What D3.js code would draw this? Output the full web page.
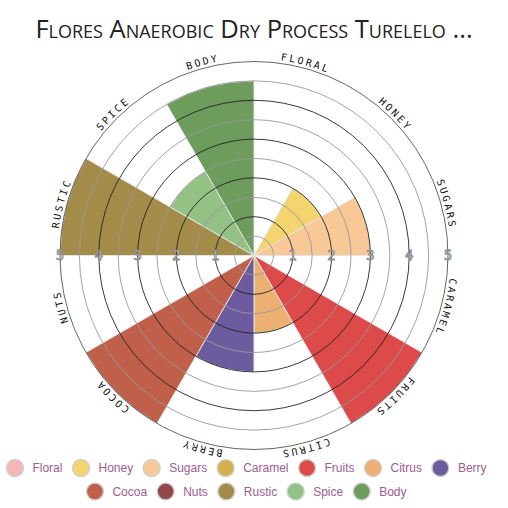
<!DOCTYPE html>
<html>
<head>
<meta charset="utf-8">
<script src="https://cdn.jsdelivr.net/npm/d3@7"></script>
<style>
  html, body { margin: 0; padding: 0; background: #fff; }
  svg { display: block; }
</style>
</head>
<body>
<svg id="chart" width="508" height="508"></svg>
<script>
const title = "Flores Anaerobic Dry Process Turelelo ...";
const categories = ["Floral", "Honey", "Sugars", "Caramel", "Fruits", "Citrus", "Berry", "Cocoa", "Nuts", "Rustic", "Spice", "Body"];
const values = [0, 2, 3, 0, 5, 2, 3, 5, 0, 5, 2.5, 4.5];
const colors = ["#f4b6b6", "#f3d46f", "#f8c996", "#d4af4b", "#dc4a4a", "#ecb073", "#6c5b9e", "#c1604a", "#934848", "#a38c4a", "#94c184", "#6e9c5c"];
const tickValues = [1, 2, 3, 4, 5];
const gridValues = [0.5, 1, 1.5, 2, 2.5, 3, 3.5, 4, 4.5, 5];

const svg = d3.select("#chart");
const cx = 254, cy = 255.5, R = 194;

const titleText = svg.append("text")
  .attr("x", 254).attr("y", 37.5)
  .attr("text-anchor", "middle")
  .style("font-family", "'Open Sans', sans-serif")
  .style("font-variant", "small-caps")
  .style("font-size", "25.5px")
  .style("fill", "#222")
  .text(title);

const r = d3.scaleLinear().domain([0, 5]).range([0, R]);
const ang = d3.scaleBand().domain(categories).range([0, 2 * Math.PI]);

const g = svg.append("g").attr("transform", `translate(${cx},${cy})`);

const data = categories.map((c, i) => ({ cat: c, value: values[i], color: colors[i] }));

const arc = d3.arc()
  .innerRadius(0)
  .outerRadius(d => r(d.value))
  .startAngle(d => ang(d.cat))
  .endAngle(d => ang(d.cat) + ang.bandwidth());

g.selectAll("path.bar").data(data).enter().append("path")
  .attr("class", "bar")
  .attr("d", arc)
  .attr("fill", d => d.color)
  .attr("stroke", "#e4e4e4")
  .attr("stroke-width", 1);

g.selectAll("circle.grid").data(gridValues).enter().append("circle")
  .attr("class", "grid")
  .attr("r", d => r(d))
  .attr("fill", "none")
  .attr("stroke", d => Number.isInteger(d) ? (d === 5 ? "#555" : "#222") : "#999")
  .attr("stroke-width", 0.9);

// Tick labels on both sides
const ticks = [];
tickValues.forEach(t => { ticks.push({ t, s: 1 }); ticks.push({ t, s: -1 }); });
g.selectAll("text.tick").data(ticks).enter().append("text")
  .attr("class", "tick")
  .attr("x", d => d.s * r(d.t))
  .attr("y", 0)
  .attr("dy", "0.36em")
  .attr("text-anchor", "middle")
  .style("font-family", "'DejaVu Sans', sans-serif")
  .style("font-size", "13.5px")
  .style("fill", "#fff")
  .style("stroke", "#808080")
  .style("stroke-width", 0.8)
  .text(d => d.t);

// Category labels on a clockwise circular path
const LR = 197;
g.append("path")
  .attr("id", "labelPath")
  .attr("d", `M0,${-LR} A${LR},${LR} 0 1,1 0,${LR} A${LR},${LR} 0 1,1 0,${-LR}`)
  .attr("fill", "none");
const circ = 2 * Math.PI * LR;
g.selectAll("text.cat").data(data).enter().append("text")
  .attr("class", "cat")
  .style("font-family", "'DejaVu Sans Mono', monospace")
  .style("font-size", "10px")
  .style("letter-spacing", "2.3px")
  .style("fill", "#111")
  .append("textPath")
  .attr("href", "#labelPath")
  .attr("startOffset", d => ((ang(d.cat) + ang.bandwidth() / 2) / (2 * Math.PI)) * circ)
  .attr("text-anchor", "middle")
  .text(d => d.cat.toUpperCase());

// Legend
const rows = [categories.slice(0, 7), categories.slice(7)];
const rowY = [468, 491.5];
const legendCenter = 246.5;
const cr = 8.5;
rows.forEach((row, ri) => {
  const lg = svg.append("g");
  let x = 0;
  row.forEach(c => {
    const i = categories.indexOf(c);
    const item = lg.append("g").attr("transform", `translate(${x},0)`);
    item.append("circle").attr("cx", cr).attr("cy", 0).attr("r", cr)
      .attr("fill", colors[i]).attr("stroke", "#d0d0d0").attr("stroke-width", 1.5);
    const t = item.append("text").attr("x", cr * 2 + 9).attr("y", 0).attr("dy", "0.35em")
      .style("font-family", "'Liberation Sans', Arial, sans-serif")
      .style("font-size", "12px")
      .style("fill", "#a05c8c")
      .text(c);
    const w = t.node().getComputedTextLength();
    x += cr * 2 + 9 + w + 10;
  });
  const total = x - 10;
  lg.attr("transform", `translate(${legendCenter - total / 2},${rowY[ri]})`);
});
</script>
</body>
</html>
